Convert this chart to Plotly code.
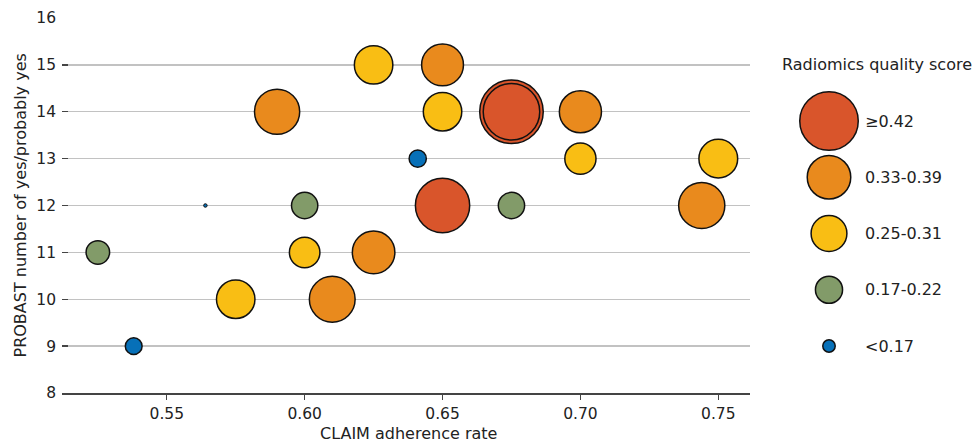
import plotly.graph_objects as go

# ---- data ----
claim_rate = [0.675, 0.675, 0.650, 0.744, 0.610, 0.590, 0.750, 0.625, 0.700, 0.650,
              0.575, 0.625, 0.650, 0.700, 0.600, 0.600, 0.675, 0.525, 0.641, 0.538, 0.564]
probast_yes = [14, 14, 12, 12, 10, 14, 13, 11, 14, 15,
               10, 15, 14, 13, 11, 12, 12, 11, 13, 9, 12]
rqs_score = [0.486, 0.436, 0.420, 0.362, 0.359, 0.355, 0.309, 0.336, 0.333, 0.331,
             0.307, 0.307, 0.307, 0.255, 0.250, 0.220, 0.220, 0.200, 0.155, 0.152, 0.057]
rqs_group = [0, 0, 0, 1, 1, 1, 2, 1, 1, 1,
             2, 2, 2, 2, 2, 3, 3, 3, 4, 4, 4]

group_labels = ["≥0.42", "0.33-0.39", "0.25-0.31", "0.17-0.22", "<0.17"]
legend_scores = [0.45, 0.343, 0.288, 0.226, 0.121]
group_colors = ["#D9552B", "#E98A1D", "#F9BE14", "#829B69", "#0770B8"]

x_ticks = [0.55, 0.60, 0.65, 0.70, 0.75]
y_ticks = list(range(8, 17))

FONT = "DejaVu Sans"
TXT = "#222222"


def bubble(s):
    return 140 * s - 4.5


fig = go.Figure()

fig.add_trace(go.Scatter(
    x=claim_rate, y=probast_yes, mode="markers",
    marker=dict(size=[bubble(s) for s in rqs_score],
                color=[group_colors[g] for g in rqs_group],
                line=dict(color="#111111", width=[1.5 if s > 0.1 else 1.0 for s in rqs_score]),
                opacity=1),
    showlegend=False, hoverinfo="skip", xaxis="x", yaxis="y", cliponaxis=False,
))

# size legend drawn on its own hidden axes
leg_idx = list(range(len(group_labels)))
fig.add_trace(go.Scatter(
    x=[829] * len(group_labels), y=leg_idx, mode="markers",
    marker=dict(size=[bubble(s) for s in legend_scores], color=group_colors,
                line=dict(color="#111111", width=1.5), opacity=1),
    showlegend=False, hoverinfo="skip", xaxis="x2", yaxis="y2", cliponaxis=False,
))

annotations = []
for i, lab in enumerate(group_labels):
    annotations.append(dict(x=863, y=i, xref="x2", yref="y2", text=lab, showarrow=False,
                            xanchor="left", yanchor="middle",
                            font=dict(family=FONT, size=16, color=TXT)))
annotations.append(dict(x=780, y=-1.01, xref="x2", yref="y2", text="Radiomics quality score",
                        showarrow=False, xanchor="left", yanchor="middle",
                        font=dict(family=FONT, size=16, color=TXT)))
annotations.append(dict(x=(408 - 62) / 912, y=(393 - 433.5) / 375, xref="paper", yref="paper",
                        text="CLAIM adherence rate", showarrow=False,
                        xanchor="center", yanchor="middle",
                        font=dict(family=FONT, size=16, color=TXT)))
annotations.append(dict(x=(20 - 62) / 912, y=0.5, xref="paper", yref="paper",
                        text="PROBAST number of yes/probably yes", showarrow=False,
                        textangle=-90, xanchor="center", yanchor="middle",
                        font=dict(family=FONT, size=16, color=TXT)))

fig.update_layout(
    width=974, height=442,
    margin=dict(l=62, r=0, t=18, b=49, autoexpand=False),
    paper_bgcolor="white", plot_bgcolor="white",
    font=dict(family=FONT, size=15.5, color=TXT),
    xaxis=dict(domain=[0, 688 / 912], range=[0.512, 0.7615], tickvals=x_ticks,
               ticktext=[f"{v:.2f}" for v in x_ticks],
               showgrid=False, zeroline=False, showline=True, linecolor="#444444",
               linewidth=2, ticks="outside", ticklen=5, tickwidth=1.3, tickcolor="#444444",
               anchor="y", automargin=False),
    yaxis=dict(domain=[0, 1], range=[8, 16], tickvals=y_ticks,
               showgrid=True, gridcolor="#c2c2c2", gridwidth=1.3, zeroline=False,
               showline=False, ticks="inside", ticklen=6, tickwidth=1.3,
               tickcolor="#444444", ticklabelstandoff=5, anchor="x", automargin=False),
    xaxis2=dict(domain=[(760 - 62) / 912, 1], range=[760, 974], visible=False,
                anchor="y2", fixedrange=True),
    yaxis2=dict(domain=[0, 1], range=[(393 - 121) / 56.25, (18 - 121) / 56.25],
                visible=False, anchor="x2", fixedrange=True),
    annotations=annotations,
    showlegend=False,
)

fig.write_html(
    "out.html",
    config={"displayModeBar": False, "staticPlot": True},
    post_script="document.body.style.margin='0';document.body.style.padding='0';",
)
